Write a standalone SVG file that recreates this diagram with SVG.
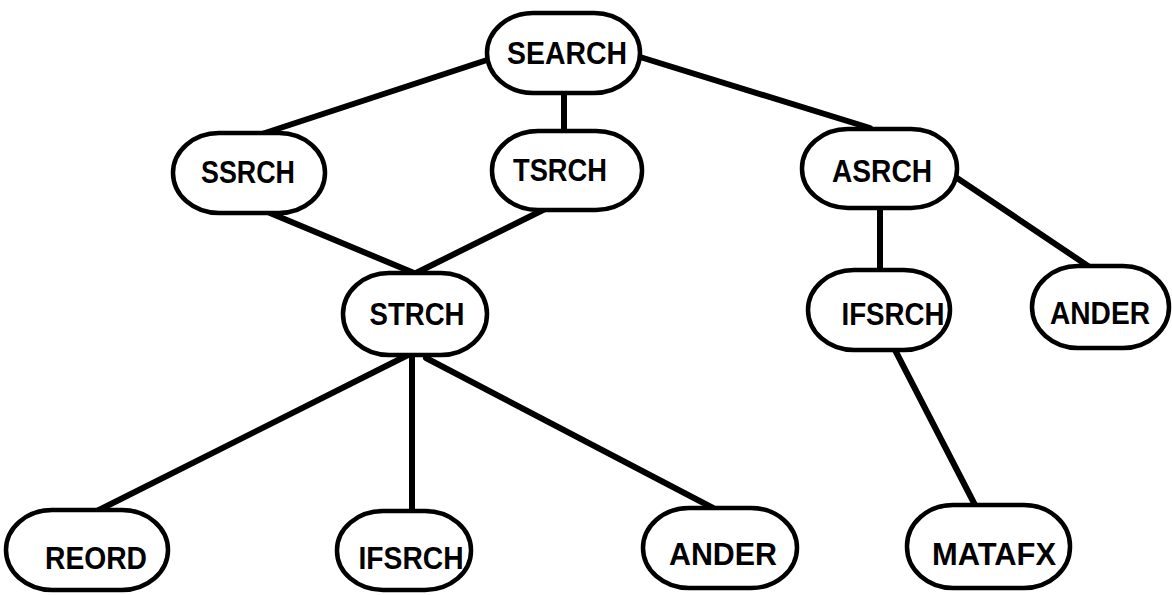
<svg xmlns="http://www.w3.org/2000/svg" width="1172" height="595" viewBox="0 0 1172 595">
<style>
.n{fill:#fff;stroke:#000;stroke-width:4.5}
.t{font-family:"Liberation Sans",Arial,sans-serif;font-weight:bold;font-size:32px;fill:#000;text-anchor:middle}
.c{stroke:#000;stroke-width:6;stroke-linecap:round;fill:none}
</style>
<rect width="1172" height="595" fill="#fff"/>
<g id="connectors">
<line class="c" x1="487" y1="60" x2="262" y2="134"/>
<line class="c" x1="564" y1="93" x2="564" y2="131"/>
<line class="c" x1="640" y1="57" x2="870" y2="128"/>
<line class="c" x1="270" y1="213" x2="414" y2="273"/>
<line class="c" x1="545" y1="209" x2="416" y2="273"/>
<line class="c" x1="880" y1="208" x2="880" y2="270"/>
<line class="c" x1="957" y1="178" x2="1088" y2="266"/>
<line class="c" x1="408" y1="355" x2="95" y2="512"/>
<line class="c" x1="412" y1="355" x2="412" y2="511"/>
<line class="c" x1="426" y1="358" x2="713" y2="508"/>
<line class="c" x1="895" y1="350" x2="975" y2="505"/>
</g>
<g id="SEARCH"><rect class="n" x="487" y="13" width="153" height="80" rx="46" ry="40"/><text class="t" x="567" y="64" textLength="120" lengthAdjust="spacingAndGlyphs">SEARCH</text></g>
<g id="SSRCH"><rect class="n" x="173" y="133" width="152" height="80" rx="46" ry="40"/><text class="t" x="248" y="183" textLength="94" lengthAdjust="spacingAndGlyphs">SSRCH</text></g>
<g id="TSRCH"><rect class="n" x="492" y="131" width="150" height="79" rx="46" ry="39"/><text class="t" x="560" y="181" textLength="94" lengthAdjust="spacingAndGlyphs">TSRCH</text></g>
<g id="ASRCH"><rect class="n" x="802" y="129" width="155" height="79" rx="46" ry="39"/><text class="t" x="882" y="182" textLength="100" lengthAdjust="spacingAndGlyphs">ASRCH</text></g>
<g id="STRCH"><rect class="n" x="343" y="273" width="144" height="82" rx="46" ry="41"/><text class="t" x="417" y="325" textLength="95" lengthAdjust="spacingAndGlyphs">STRCH</text></g>
<g id="IFSRCH2"><rect class="n" x="808" y="270" width="142" height="80" rx="46" ry="40"/><text class="t" x="893" y="325" textLength="103" lengthAdjust="spacingAndGlyphs">IFSRCH</text></g>
<g id="ANDER2"><rect class="n" x="1032" y="266" width="137" height="82" rx="46" ry="41"/><text class="t" x="1100" y="324" textLength="100" lengthAdjust="spacingAndGlyphs">ANDER</text></g>
<g id="REORD"><rect class="n" x="6" y="510" width="162" height="80" rx="46" ry="40"/><text class="t" x="96" y="569" textLength="102" lengthAdjust="spacingAndGlyphs">REORD</text></g>
<g id="IFSRCH"><rect class="n" x="337" y="511" width="134" height="79" rx="46" ry="39"/><text class="t" x="411" y="569" textLength="105" lengthAdjust="spacingAndGlyphs">IFSRCH</text></g>
<g id="ANDER"><rect class="n" x="643" y="508" width="154" height="80" rx="46" ry="40"/><text class="t" x="723" y="565" textLength="108" lengthAdjust="spacingAndGlyphs">ANDER</text></g>
<g id="MATAFX"><rect class="n" x="907" y="505" width="163" height="83" rx="46" ry="41"/><text class="t" x="994" y="565" textLength="124" lengthAdjust="spacingAndGlyphs">MATAFX</text></g>
</svg>
